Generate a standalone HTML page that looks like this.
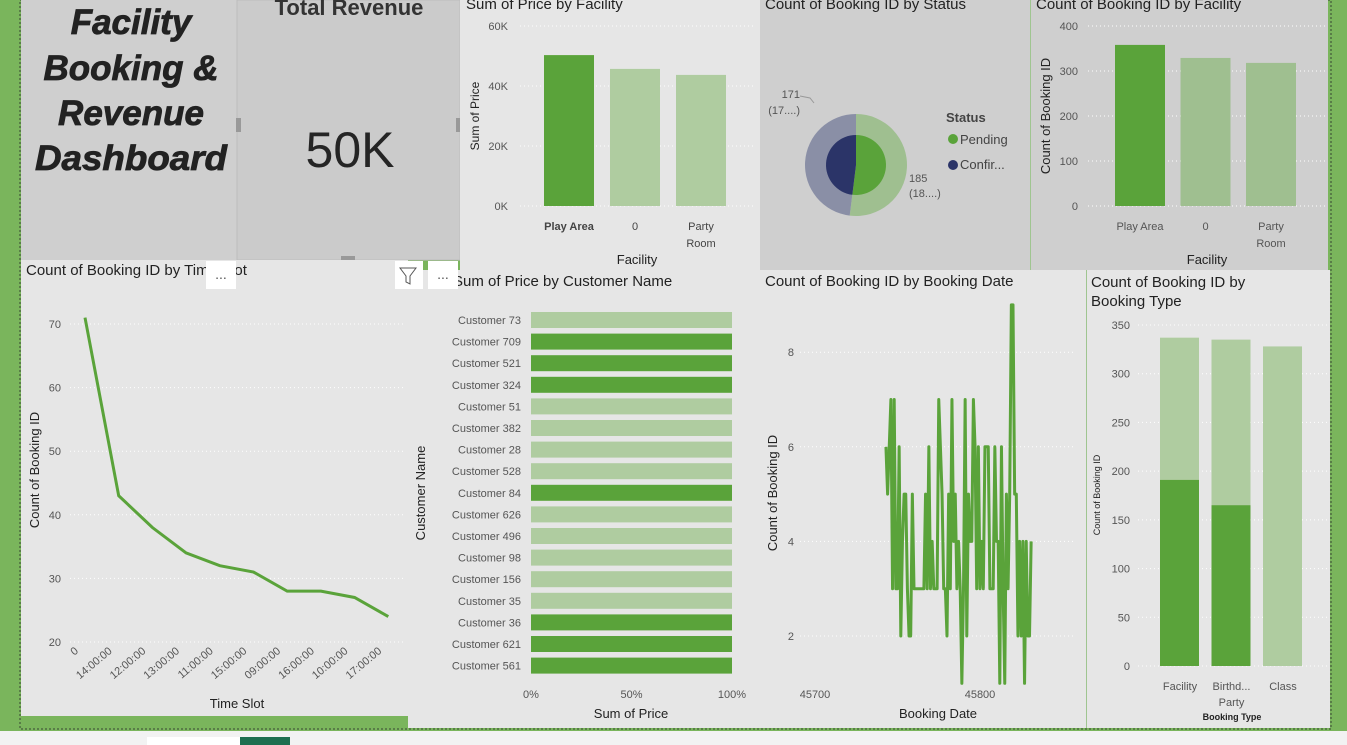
<!DOCTYPE html>
<html><head><meta charset="utf-8">
<style>
html,body{margin:0;padding:0;width:1347px;height:745px;overflow:hidden;background:#7ab55c;font-family:"Liberation Sans",sans-serif;}
svg text{font-family:"Liberation Sans",sans-serif;}
</style></head>
<body>
<svg id="s" width="1347" height="745" xmlns="http://www.w3.org/2000/svg">
<rect x="0" y="0" width="1347" height="745" fill="#7ab55c"/>
<rect x="20" y="0" width="1311" height="729" fill="#7ab55c" stroke="#4d6b40" stroke-dasharray="2,2" stroke-width="1.5"/>
<rect x="0" y="731" width="1347" height="14" fill="#f2f2f2"/>
<rect x="147" y="737" width="93" height="8" fill="#ffffff"/>
<rect x="240" y="737" width="50" height="8" fill="#1e6f50"/>

<g>
<rect x="21" y="0" width="216" height="260" fill="#cfcfcf"/>
<g font-size="35" font-weight="bold" font-style="italic" fill="#222" text-anchor="middle" stroke="#222" stroke-width="0.8">
<text x="131" y="34">Facility</text>
<text x="131" y="80">Booking &amp;</text>
<text x="131" y="125">Revenue</text>
<text x="131" y="170" textLength="192" lengthAdjust="spacingAndGlyphs">Dashboard</text>
</g>
</g>
<g>
<rect x="237" y="0" width="223" height="260" fill="#cbcbcb" stroke="#bdbdbd"/>
<text x="349" y="15" text-anchor="middle" font-size="22" font-weight="bold" fill="#333">Total Revenue</text>
<text x="350" y="167" text-anchor="middle" font-size="50" fill="#252525">50K</text>
<rect x="236" y="118" width="5" height="14" fill="#999"/><rect x="456" y="118" width="5" height="14" fill="#999"/>
<rect x="341" y="256" width="14" height="4" fill="#999"/>
</g>

<g id="c1">
<rect x="460" y="0" width="300" height="270" fill="#e6e6e6"/>
<text x="466" y="9" font-size="15" fill="#222">Sum of Price by Facility</text>
<text transform="translate(479,116) rotate(-90)" text-anchor="middle" font-size="12" fill="#222">Sum of Price</text>
<text x="637" y="264" text-anchor="middle" font-size="13" fill="#222">Facility</text>
</g>
<g id="c2">
<rect x="760" y="0" width="270" height="270" fill="#cfcfcf"/>
<line x1="1030.5" y1="0" x2="1030.5" y2="270" stroke="#9fc590"/>
<text x="765" y="9" font-size="15" fill="#222">Count of Booking ID by Status</text>
<text x="946" y="122" font-size="13" font-weight="bold" fill="#444">Status</text>
<circle cx="953" cy="139" r="5" fill="#5aa33a"/>
<text x="960" y="144" font-size="13" fill="#444">Pending</text>
<circle cx="953" cy="165" r="5" fill="#2b3468"/>
<text x="960" y="169" font-size="13" fill="#444">Confir...</text>
<text x="800" y="98" text-anchor="end" font-size="11" fill="#555">171</text>
<text x="800" y="114" text-anchor="end" font-size="11" fill="#555">(17....)</text>
<polyline points="800,96 810,98 814,103" fill="none" stroke="#999"/>
<text x="909" y="182" font-size="11" fill="#555">185</text>
<text x="909" y="197" font-size="11" fill="#555">(18....)</text>
<polyline points="876,181 880,184 893,184" fill="none" stroke="#999"/>
</g>
<g id="c3">
<rect x="1031" y="0" width="297" height="270" fill="#cfcfcf"/>
<text x="1036" y="9" font-size="15" fill="#222">Count of Booking ID by Facility</text>
<text transform="translate(1050,116) rotate(-90)" text-anchor="middle" font-size="13" fill="#222">Count of Booking ID</text>
<text x="1207" y="264" text-anchor="middle" font-size="13" fill="#222">Facility</text>
</g>

<g id="c4">
<rect x="21" y="260" width="387" height="456" fill="#e6e6e6"/>
<text x="26" y="275" font-size="15" fill="#222">Count of Booking ID by Time Slot</text>
<rect x="206" y="261" width="30" height="28" fill="#fff"/>
<text x="221" y="279" text-anchor="middle" font-size="14" fill="#555">...</text>
<text transform="translate(39,470) rotate(-90)" text-anchor="middle" font-size="13" fill="#222">Count of Booking ID</text>
<text x="237" y="708" text-anchor="middle" font-size="13" fill="#222">Time Slot</text>
</g>
<rect x="21" y="716" width="387" height="12" fill="#7ab55c"/>
<g id="c5">
<rect x="408" y="270" width="352" height="458" fill="#e6e6e6"/>
<text x="453" y="286" font-size="15" fill="#222">Sum of Price by Customer Name</text>
<rect x="395" y="261" width="28" height="28" fill="#fff"/>
<path d="M400,268 L416,268 L410,276 L410,284 L406,282 L406,276 Z" fill="none" stroke="#555"/>
<rect x="428" y="261" width="30" height="28" fill="#fff"/>
<text x="443" y="279" text-anchor="middle" font-size="14" fill="#555">...</text>
<text transform="translate(425,493) rotate(-90)" text-anchor="middle" font-size="13" fill="#222">Customer Name</text>
<text x="631" y="718" text-anchor="middle" font-size="13" fill="#222">Sum of Price</text>
</g>
<g id="c6">
<rect x="760" y="270" width="326" height="458" fill="#e6e6e6"/>
<text x="765" y="286" font-size="15" fill="#222">Count of Booking ID by Booking Date</text>
<text transform="translate(777,493) rotate(-90)" text-anchor="middle" font-size="13" fill="#222">Count of Booking ID</text>
<text x="938" y="718" text-anchor="middle" font-size="13" fill="#222">Booking Date</text>
</g>
<g id="c7">
<rect x="1086" y="270" width="244" height="458" fill="#e6e6e6"/>
<line x1="1086.5" y1="270" x2="1086.5" y2="728" stroke="#9fc590"/>
<text x="1091" y="287" font-size="15" fill="#222">Count of Booking ID by</text>
<text x="1091" y="306" font-size="15" fill="#222">Booking Type</text>
<text transform="translate(1100,495) rotate(-90)" text-anchor="middle" font-size="9" fill="#222">Count of Booking ID</text>
<text x="1232" y="720" text-anchor="middle" font-size="9" font-weight="bold" fill="#222">Booking Type</text>
</g>
</svg>
<script>
const facCats = ["Play Area","0","Party Room"];
const facPrice = [50300, 45700, 43700];
const facCount = [358, 329, 318];
const statusCats = ["Pending","Confirmed"];
const statusVals = [185, 171];
const slotCats = ["0","14:00:00","12:00:00","13:00:00","11:00:00","15:00:00","09:00:00","16:00:00","10:00:00","17:00:00"];
const slotVals = [71,43,38,34,32,31,28,28,27,24];
const custCats = ["Customer 73","Customer 709","Customer 521","Customer 324","Customer 51","Customer 382","Customer 28","Customer 528","Customer 84","Customer 626","Customer 496","Customer 98","Customer 156","Customer 35","Customer 36","Customer 621","Customer 561"];
const custVals = [100,100,100,100,100,100,100,100,100,100,100,100,100,100,100,100,100];
const custHighlight = [0,1,1,1,0,0,0,0,1,0,0,0,0,0,1,1,1];
const dateStart = 45743;
const dateVals = [6,5,6,7,3,7,3,3,6,2,4,5,5,3,2,2,5,3,3,3,3,3,3,3,5,3,6,3,4,3,3,3,7,6,5,3,3,2,5,3,7,4,5,3,4,3,1,3,7,2,5,4,4,7,6,3,6,3,4,3,6,6,6,3,3,3,6,4,4,1,6,3,1,5,3,5,9,9,5,5,2,4,2,4,1,4,2,2,4];
const typeCats = ["Facility","Birthday Party","Class"];
const typeDark = [191,165,0];
const typeTotal = [337,335,328];
const fTicksK = [0,20,40,60];
const cTicks = [0,100,200,300,400];
const sTicks = [20,30,40,50,60,70];
const dTicks = [2,4,6,8];
const dxTicks = [45700,45800];
const tTicks = [0,50,100,150,200,250,300,350];
const pTicks = [0,50,100];

const NS="http://www.w3.org/2000/svg";
function mk(parent,tag,attrs,txt){const e=document.createElementNS(NS,tag);for(const k in attrs)e.setAttribute(k,attrs[k]);if(txt!==undefined)e.textContent=txt;document.getElementById(parent).appendChild(e);return e;}
const DARK="#5aa33a", LIGHT="#afcca0", LIGHT2="#9fbf90";

{const y=v=>206-v/60000*180; const xs=i=>544+i*66;
fTicksK.forEach(t=>{const g=mk("c1","line",{x1:520,x2:755,y1:y(t*1000),y2:y(t*1000),stroke:"#fff","stroke-dasharray":"1,3"});
const l=mk("c1","text",{x:508,y:y(t*1000)+4,"text-anchor":"end","font-size":11,fill:"#555"},t+"K");});
facPrice.forEach((v,i)=>{const r=mk("c1","rect",{x:xs(i),y:y(v),width:50,height:206-y(v),fill:i==0?DARK:LIGHT});
const lab=facCats[i]=="Party Room"?["Party","Room"]:[facCats[i]];
lab.forEach((s,j)=>{const t=mk("c1","text",{x:xs(i)+25,y:230+j*17,"text-anchor":"middle","font-size":11,fill:"#444","font-weight":i==0?"bold":"normal"},s);});});}

{const cx=856,cy=165,R=51,r0=30;const tot=statusVals.reduce((a,b)=>a+b,0);let a0=-Math.PI/2;
const outerC=[LIGHT2,"#8a8fa6"], innerC=[DARK,"#2b3468"];
statusVals.forEach((v,i)=>{const a1=a0+v/tot*2*Math.PI;const big=(a1-a0)>Math.PI?1:0;
const p=(rad)=>`M${cx+rad*Math.cos(a0)},${cy+rad*Math.sin(a0)} A${rad},${rad} 0 ${big} 1 ${cx+rad*Math.cos(a1)},${cy+rad*Math.sin(a1)} L${cx},${cy}Z`;
const o=mk("c2","path",{d:p(R),fill:outerC[i]});
const n=mk("c2","path",{d:p(r0),fill:innerC[i]});
a0=a1;});}

{const y=v=>206-v/400*180; const xs=i=>1115+i*65.5;
cTicks.forEach(t=>{const g=mk("c3","line",{x1:1088,x2:1326,y1:y(t),y2:y(t),stroke:"#fff","stroke-dasharray":"1,3"});
const l=mk("c3","text",{x:1078,y:y(t)+4,"text-anchor":"end","font-size":11,fill:"#555"},t);});
facCount.forEach((v,i)=>{const r=mk("c3","rect",{x:xs(i),y:y(v),width:50,height:206-y(v),fill:i==0?DARK:LIGHT2});
const lab=facCats[i]=="Party Room"?["Party","Room"]:[facCats[i]];
lab.forEach((s,j)=>{const t=mk("c3","text",{x:xs(i)+25,y:230+j*17,"text-anchor":"middle","font-size":11,fill:"#555"},s);});});}

{const y=v=>642-(v-20)/50*318; const x=i=>85+i*33.7;
sTicks.forEach(t=>{const g=mk("c4","line",{x1:70,x2:405,y1:y(t),y2:y(t),stroke:"#fff","stroke-dasharray":"1,3"});
const l=mk("c4","text",{x:61,y:y(t)+4,"text-anchor":"end","font-size":11,fill:"#555"},t);});
const pl=mk("c4","polyline",{points:slotVals.map((v,i)=>x(i)+","+y(v)).join(" "),fill:"none",stroke:DARK,"stroke-width":3});
slotCats.forEach((c,i)=>{const t=mk("c4","text",{transform:`translate(${x(i)-6},${652}) rotate(-40)`,"text-anchor":"end","font-size":11,fill:"#555"},c);});}

{const x=v=>531+v/100*201; const yc=i=>320+i*21.6;
custVals.forEach((v,i)=>{const r=mk("c5","rect",{x:531,y:yc(i)-8,width:x(v)-531,height:16,fill:custHighlight[i]?DARK:LIGHT});
const t=mk("c5","text",{x:521,y:yc(i)+4,"text-anchor":"end","font-size":11,fill:"#555"},custCats[i]);});
pTicks.forEach(p=>{const t=mk("c5","text",{x:x(p),y:698,"text-anchor":"middle","font-size":11,fill:"#555"},p+"%");});}

{const y=v=>636-(v-2)*47.3; const x=d=>815+(d-45700)*1.65;
dTicks.forEach(t=>{const g=mk("c6","line",{x1:800,x2:1075,y1:y(t),y2:y(t),stroke:"#fff","stroke-dasharray":"1,3"});
const l=mk("c6","text",{x:794,y:y(t)+4,"text-anchor":"end","font-size":11,fill:"#555"},t);});
dxTicks.forEach(t=>{const l=mk("c6","text",{x:x(t),y:698,"text-anchor":"middle","font-size":11,fill:"#555"},t);});
const pl=mk("c6","polyline",{points:dateVals.map((v,i)=>x(dateStart+i)+","+y(v)).join(" "),fill:"none",stroke:DARK,"stroke-width":3,"stroke-linejoin":"round"});}

{const y=v=>666-v/350*341; const xs=i=>1160+i*51.5;
tTicks.forEach(t=>{const g=mk("c7","line",{x1:1138,x2:1328,y1:y(t),y2:y(t),stroke:"#fff","stroke-dasharray":"1,3"});
const l=mk("c7","text",{x:1130,y:y(t)+4,"text-anchor":"end","font-size":11,fill:"#555"},t);});
typeTotal.forEach((v,i)=>{const r=mk("c7","rect",{x:xs(i),y:y(v),width:39,height:666-y(v),fill:LIGHT});
const d=mk("c7","rect",{x:xs(i),y:y(typeDark[i]),width:39,height:666-y(typeDark[i]),fill:DARK});
const lab=typeCats[i]=="Birthday Party"?["Birthd...","Party"]:[typeCats[i]];
lab.forEach((s,j)=>{const t=mk("c7","text",{x:xs(i)+20,y:690+j*16,"text-anchor":"middle","font-size":11,fill:"#555"},s);});});}
</script>
</body></html>
